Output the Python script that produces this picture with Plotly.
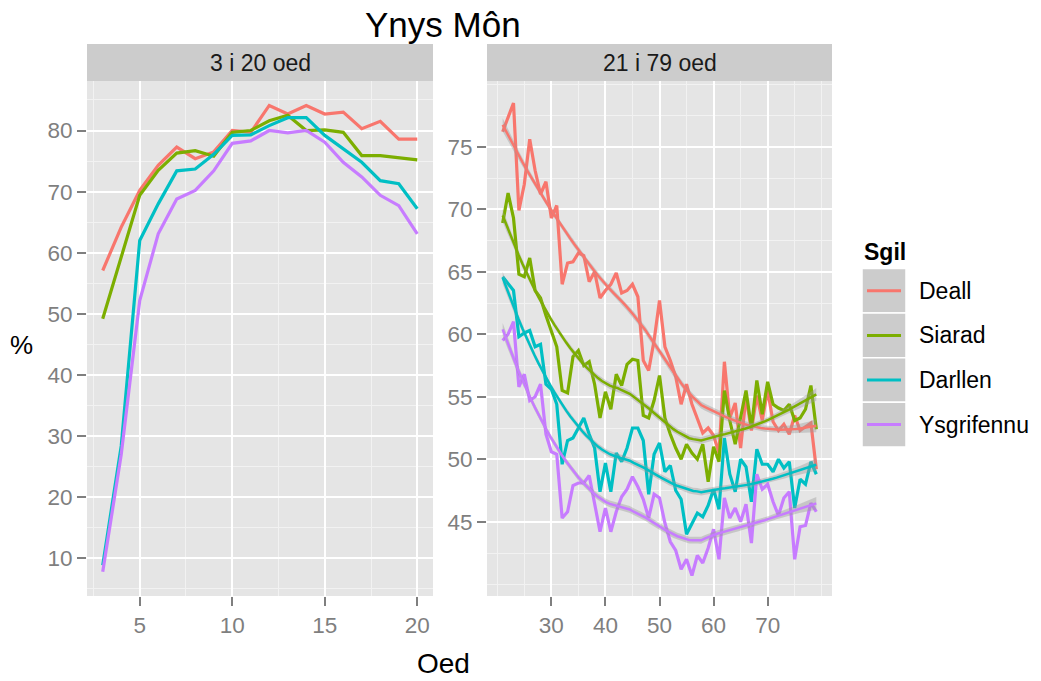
import numpy as np
import plotly.graph_objects as go

# ---------------- data ----------------
skills = ["Deall", "Siarad", "Darllen", "Ysgrifennu"]
colors = ["#F8766D", "#7CAE00", "#00BFC4", "#C77CFF"]

ages_young = list(range(3, 21))
deall_young = [57.1, 64.2, 70.2, 74.3, 77.3, 75.4, 76.5, 80.0, 79.7, 84.1,
               82.7, 84.1, 82.7, 83.0, 80.3, 81.5, 78.6, 78.6]
siarad_young = [49.2, 59.5, 69.4, 73.5, 76.3, 76.7, 75.8, 79.7, 80.0, 81.6,
                82.5, 80.0, 80.1, 79.7, 75.9, 75.9, 75.5, 75.2]
darllen_young = [8.9, 28.4, 62.0, 68.0, 73.4, 73.7, 76.1, 79.2, 79.3, 80.8,
                 82.1, 82.1, 79.2, 77.0, 74.8, 71.8, 71.3, 67.2]
ysgrifennu_young = [7.8, 27.0, 52.2, 63.1, 68.8, 70.2, 73.4, 77.9, 78.3, 80.0,
                    79.6, 80.0, 78.1, 74.8, 72.4, 69.4, 67.7, 63.1]

ages_old = list(range(21, 80))
deall_old = [76.2, 77.3, 78.5, 69.9, 72.0, 75.6, 73.1, 71.2, 72.2, 69.3,
             70.3, 64.0, 65.7, 65.8, 66.5, 66.3, 64.2, 65.0, 62.9, 63.5,
             64.0, 64.9, 63.3, 63.5, 64.0, 63.0, 57.9, 57.1, 59.5, 62.7,
             59.0, 57.9, 56.6, 54.4, 56.0, 54.4, 53.3, 52.1, 52.5, 51.9,
             50.5, 57.8, 53.3, 54.5, 50.9, 55.0, 52.3, 55.1, 53.1, 55.5,
             53.0, 52.3, 52.8, 52.0, 53.5, 52.3, 52.6, 52.9, 49.2]
siarad_old = [68.9, 71.3, 69.3, 64.8, 64.6, 66.1, 63.5, 62.9, 61.5, 60.2,
              59.0, 55.5, 55.3, 58.2, 58.7, 57.5, 57.8, 56.0, 53.3, 55.4,
              54.0, 56.8, 55.9, 57.6, 58.0, 57.9, 53.5, 53.3, 54.7, 56.7,
              53.3, 52.0, 50.9, 50.0, 51.2, 50.5, 50.0, 51.2, 48.2, 51.0,
              49.8, 55.5, 53.1, 51.2, 53.5, 55.5, 52.5, 56.3, 53.6, 56.2,
              54.4, 54.1, 53.9, 54.4, 53.1, 53.3, 54.0, 55.9, 52.4]
darllen_old = [64.6, 64.0, 63.5, 59.8, 60.1, 60.3, 59.0, 59.2, 56.0, 55.6,
               54.4, 49.6, 51.5, 51.7, 52.5, 53.3, 52.0, 50.9, 47.4, 49.7,
               47.4, 50.5, 49.8, 50.9, 52.5, 52.5, 51.5, 47.2, 50.4, 51.3,
               49.0, 49.5, 47.5, 46.8, 44.0, 44.8, 45.7, 45.4, 46.3, 47.6,
               46.0, 51.7, 48.8, 47.4, 50.0, 49.4, 46.6, 50.8, 49.6, 49.6,
               49.0, 50.0, 49.3, 49.8, 46.1, 48.4, 48.0, 49.8, 48.8]
ysgrifennu_old = [59.5, 60.0, 61.0, 55.8, 56.8, 54.7, 55.0, 56.0, 52.0, 50.6,
                  50.4, 45.3, 45.8, 47.9, 48.1, 48.1, 48.7, 46.3, 44.2, 46.1,
                  44.2, 45.8, 47.0, 47.6, 48.6, 47.8, 46.8, 45.3, 47.2, 46.9,
                  44.9, 43.4, 42.7, 41.2, 42.0, 40.7, 42.3, 41.7, 42.9, 44.4,
                  42.0, 46.9, 45.3, 46.1, 45.0, 46.4, 43.3, 48.8, 47.6, 48.0,
                  46.6, 45.5, 46.9, 47.4, 42.0, 44.6, 44.7, 46.5, 45.8]

young = [deall_young, siarad_young, darllen_young, ysgrifennu_young]
old = [deall_old, siarad_old, darllen_old, ysgrifennu_old]


# ---------------- loess smoother (span 0.75, degree 2) ----------------
def loess_rows(x, xs, span=0.75, degree=2):
    x = np.asarray(x, float)
    n = len(x)
    q = int(np.floor(n * span))
    rows = []
    for x0 in xs:
        d = np.abs(x - x0)
        h = np.sort(d)[q - 1]
        w = np.clip(1 - (d / h) ** 3, 0, None) ** 3
        X = np.vander(x - x0, degree + 1, increasing=True)
        XtW = X.T * w
        rows.append(np.linalg.solve(XtW @ X, XtW)[0])
    return np.array(rows)


def loess_fit(x, y, n_out=80, band=0.55):
    x = np.asarray(x, float)
    y = np.asarray(y, float)
    xs = np.linspace(x.min(), x.max(), n_out)
    L_data = loess_rows(x, x)
    resid = y - L_data @ y
    M = np.eye(len(x)) - L_data
    delta1 = np.trace(M.T @ M)
    sigma = np.sqrt(np.sum(resid ** 2) / delta1)
    L_out = loess_rows(x, xs)
    fit = L_out @ y
    se = sigma * np.sqrt(np.sum(L_out ** 2, axis=1))
    return xs, fit, band * se


fig = go.Figure()

# raw series
for name, col, yv in zip(skills, colors, young):
    fig.add_trace(go.Scatter(x=ages_young, y=yv, mode="lines", name=name,
                             line=dict(color=col, width=3.2),
                             xaxis="x", yaxis="y", showlegend=False))
for name, col, yv in zip(skills, colors, old):
    fig.add_trace(go.Scatter(x=ages_old, y=yv, mode="lines", name=name,
                             line=dict(color=col, width=3.2),
                             xaxis="x2", yaxis="y2", showlegend=False))

# smoothed trends with confidence ribbons
for name, col, yv in zip(skills, colors, old):
    xs, fit, ci = loess_fit(ages_old, yv)
    fig.add_trace(go.Scatter(
        x=np.concatenate([xs, xs[::-1]]),
        y=np.concatenate([fit + ci, (fit - ci)[::-1]]),
        mode="lines", fill="toself", fillcolor="rgba(153,153,153,0.4)",
        line=dict(width=0), hoverinfo="skip",
        xaxis="x2", yaxis="y2", showlegend=False))
    fig.add_trace(go.Scatter(x=xs, y=fit, mode="lines", name=name,
                             line=dict(color=col, width=2.5),
                             xaxis="x2", yaxis="y2", showlegend=False))

# ---------------- layout ----------------
W, H = 1041, 681


def px_x(p):
    return p / W


def px_y(p):
    return 1 - p / H


grey50 = "#7F7F7F"
font_family = "Liberation Sans, Arial, sans-serif"
tickfont = dict(family=font_family, size=22.5, color=grey50)

common = dict(showgrid=True, gridcolor="white", gridwidth=2.2,
              zeroline=False, showline=False, ticks="outside",
              ticklen=9, tickwidth=2, tickcolor=grey50, tickfont=tickfont,
              tickmode="array", fixedrange=True)

panel_top, panel_bot = 81, 596
left_l, left_r = 87, 433
right_l, right_r = 487, 832
ydom = [px_y(panel_bot), px_y(panel_top)]

fig.update_layout(
    width=W, height=H,
    margin=dict(l=0, r=0, t=0, b=0),
    paper_bgcolor="white", plot_bgcolor="#E5E5E5",
    font=dict(family=font_family, color="#1A1A1A"),
    xaxis=dict(domain=[px_x(left_l), px_x(left_r)], anchor="y",
               range=[2.15, 20.85], tickvals=[5, 10, 15, 20],
               minor=dict(dtick=2.5, tick0=0, showgrid=True,
                          gridcolor="#F2F2F2", gridwidth=1.1, ticks=""),
               **common),
    yaxis=dict(domain=ydom, anchor="x",
               range=[3.85, 88.1], tickvals=[10, 20, 30, 40, 50, 60, 70, 80],
               minor=dict(dtick=5, tick0=0, showgrid=True,
                          gridcolor="#F2F2F2", gridwidth=1.1, ticks=""),
               **common),
    xaxis2=dict(domain=[px_x(right_l), px_x(right_r)], anchor="y2",
                range=[18.1, 81.9], tickvals=[30, 40, 50, 60, 70],
                minor=dict(dtick=5, tick0=0, showgrid=True,
                           gridcolor="#F2F2F2", gridwidth=1.1, ticks=""),
                **common),
    yaxis2=dict(domain=ydom, anchor="x2",
                range=[39.06, 80.26], tickvals=[45, 50, 55, 60, 65, 70, 75],
                minor=dict(dtick=2.5, tick0=0, showgrid=True,
                           gridcolor="#F2F2F2", gridwidth=1.1, ticks=""),
                **common),
    showlegend=False,
)

shapes = []
annotations = []

# facet strips
strip_top, strip_bot = 44, 81
for (l, r), label in [((left_l, left_r), "3 i 20 oed"),
                      ((right_l, right_r), "21 i 79 oed")]:
    shapes.append(dict(type="rect", xref="paper", yref="paper",
                       x0=px_x(l), x1=px_x(r), y0=px_y(strip_bot), y1=px_y(strip_top),
                       fillcolor="#CCCCCC", line=dict(width=0), layer="below"))
    annotations.append(dict(text=label, xref="paper", yref="paper",
                            x=px_x((l + r) / 2), y=px_y((strip_top + strip_bot) / 2),
                            xanchor="center", yanchor="middle", showarrow=False,
                            font=dict(size=23, color="#1A1A1A", family=font_family)))

# titles
annotations.append(dict(text="Ynys Môn", xref="paper", yref="paper",
                        x=px_x(443), y=px_y(24), xanchor="center", yanchor="middle",
                        showarrow=False,
                        font=dict(size=35, color="#000000", family=font_family)))
annotations.append(dict(text="Oed", xref="paper", yref="paper",
                        x=px_x(443), y=px_y(663), xanchor="center", yanchor="middle",
                        showarrow=False,
                        font=dict(size=28, color="#000000", family=font_family)))
annotations.append(dict(text="%", xref="paper", yref="paper",
                        x=px_x(21), y=px_y(345), xanchor="center", yanchor="middle",
                        showarrow=False,
                        font=dict(size=26, color="#000000", family=font_family)))

# legend: title, keys and labels
key_l, key_r = 862, 906
key_top, key_h = 268.5, 44.6
annotations.append(dict(text="<b>Sgil</b>", xref="paper", yref="paper",
                        x=px_x(862), y=px_y(252), xanchor="left", yanchor="middle",
                        showarrow=False,
                        font=dict(size=23, color="#000000", family=font_family)))
for i, (name, col) in enumerate(zip(skills, colors)):
    t = key_top + i * key_h
    b = t + key_h
    shapes.append(dict(type="rect", xref="paper", yref="paper",
                       x0=px_x(key_l), x1=px_x(key_r), y0=px_y(b), y1=px_y(t),
                       fillcolor="#CCCCCC", line=dict(color="white", width=1.5)))
    cy = (t + b) / 2
    shapes.append(dict(type="line", xref="paper", yref="paper",
                       x0=px_x(key_l + 5), x1=px_x(key_r - 5), y0=px_y(cy), y1=px_y(cy),
                       line=dict(color=col, width=3)))
    annotations.append(dict(text=name, xref="paper", yref="paper",
                            x=px_x(917), y=px_y(cy), xanchor="left", yanchor="middle",
                            showarrow=False,
                            font=dict(size=23, color="#000000", family=font_family)))

fig.update_layout(shapes=shapes, annotations=annotations)

fig.write_html("out.html")
